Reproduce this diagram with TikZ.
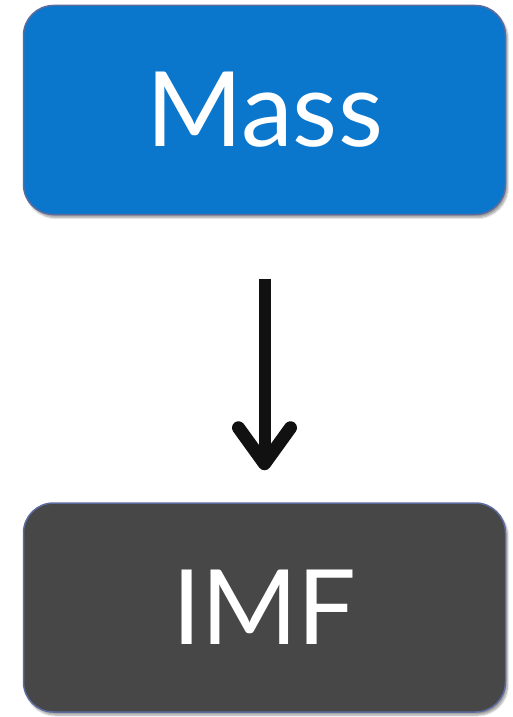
\documentclass[tikz,border=0pt]{standalone}
\usepackage{fontspec}
\setmainfont{Lato}
\usetikzlibrary{arrows.meta,shadows.blur}
\definecolor{massblue}{HTML}{0A77CC}
\definecolor{imfgray}{HTML}{474747}
\definecolor{boxedge}{HTML}{5C6B9C}
\definecolor{arrowblack}{HTML}{111111}
\begin{document}
\begin{tikzpicture}[x=1pt,y=1pt]
\useasboundingbox (0,0) rectangle (512,-717);
\tikzset{
  box/.style={rounded corners=30pt, draw=boxedge, line width=1.5pt,
    minimum width=482pt, minimum height=209pt, text=white,
    font=\fontsize{104}{120}\selectfont,
    blur shadow={shadow xshift=2pt, shadow yshift=-3pt,
      shadow blur steps=6, shadow opacity=40}},
  flow/.style={draw=arrowblack, line width=12pt,
    -{Straight Barb[length=36pt, width=52pt, line width=13pt, round]}}
}
\node[box, fill=massblue] (mass) at (264.5,-110) {Mass};
\node[box, fill=imfgray] (imf) at (264.5,-607.5) {IMF};
\draw[flow, shorten <=64pt, shorten >=32pt] (mass) -- (imf);
\end{tikzpicture}
\end{document}
